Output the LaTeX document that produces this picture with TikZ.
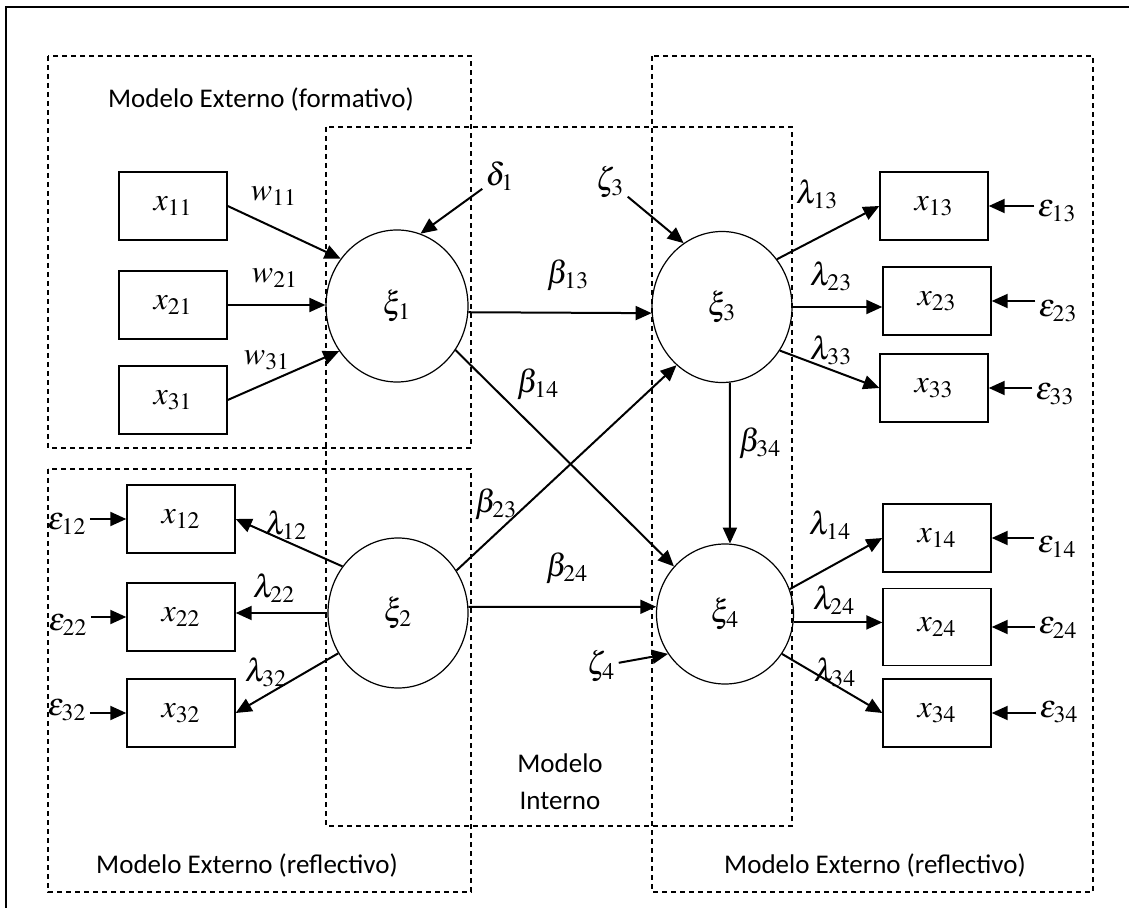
\documentclass[tikz,border=0pt]{standalone}
\usepackage{mathptmx}
\usepackage[no-math]{fontspec}
\setmainfont{Carlito}
\usetikzlibrary{arrows.meta,positioning,shapes.geometric}

\newcommand{\mathsz}{\fontsize{16}{19}\selectfont}
\newcommand{\notesz}{\fontsize{13.5}{18.5}\selectfont}

\begin{document}
\begin{tikzpicture}[x=0.5pt,y=-0.5pt,>={Triangle[length=8pt,width=7pt]}]
        \tikzset{block/.style={draw, rectangle, line width=0.7pt, inner sep=0pt, minimum width=54pt, minimum height=34pt, font=\mathsz},
        latent/.style={draw, ellipse, line width=0.6pt, inner sep=0pt, minimum width=71pt, minimum height=76pt, font=\mathsz},
        lbl/.style={inner sep=1.5pt, font=\mathsz},
        note/.style={inner sep=0pt, align=center, font=\notesz},
        zone/.style={line width=0.6pt, dash pattern=on 2.5pt off 2pt},
        arr/.style={line width=1pt, ->},
        }
        \useasboundingbox (0,0) rectangle (1129,908);
        \draw[line width=1pt] (6,908) -- (6,7) -- (1129,7);

%% dashed zones
        \draw[zone] (48,56) rectangle (471,448);
        \draw[zone] (48,469) rectangle (471,892);
        \draw[zone] (326,127) rectangle (792,826);
        \draw[zone] (652,56) rectangle (1093,892);
        \node[note] (formtxt) at (261,100) {Modelo Externo (formativo)};
        \node[note] (refltxtl) at (247,865) {Modelo Externo (reflectivo)};
        \node[note] (refltxtr) at (875,865) {Modelo Externo (reflectivo)};
        \node[note] (innertxt) at (560,782) {Modelo\\Interno};

%% indicators
        \node[block] (x11) at (173,206) {$x_{11}$};
        \node[block] (x21) at (173,305) {$x_{21}$};
        \node[block] (x31) at (173,400) {$x_{31}$};
        \node[block] (x12) at (181,519) {$x_{12}$};
        \node[block] (x22) at (181,617) {$x_{22}$};
        \node[block] (x32) at (181,713) {$x_{32}$};
        \node[block] (x13) at (934,206) {$x_{13}$};
        \node[block] (x23) at (937,301) {$x_{23}$};
        \node[block] (x33) at (934,388) {$x_{33}$};
        \node[block] (x14) at (937,538) {$x_{14}$};
        \node[block, minimum height=38.5pt] (x24) at (937,627) {$x_{24}$};
        \node[block] (x34) at (937,713) {$x_{34}$};

%% latent variables
        \node[latent] (xi1) at (397,306) {$\xi_1$};
        \node[latent, minimum width=70pt, minimum height=75pt] (xi2) at (398,613) {$\xi_2$};
        \node[latent, minimum width=70pt, minimum height=75.5pt] (xi3) at (722,307) {$\xi_3$};
        \node[latent, minimum width=68.5pt, minimum height=70pt] (xi4) at (725,614) {$\xi_4$};

%% labels
        \node[lbl] (w11) at (274,196) {$w_{11}$};
        \node[lbl] (w21) at (275,278) {$w_{21}$};
        \node[lbl] (w31) at (267,360) {$w_{31}$};
        \node[lbl] (lam12) at (286,525) {$\lambda_{12}$};
        \node[lbl] (lam22) at (274,588) {$\lambda_{22}$};
        \node[lbl] (lam32) at (266,672) {$\lambda_{32}$};
        \node[lbl] (lam13) at (817,194) {$\lambda_{13}$};
        \node[lbl] (lam23) at (831,276) {$\lambda_{23}$};
        \node[lbl] (lam33) at (831,350) {$\lambda_{33}$};
        \node[lbl] (lam14) at (830,525) {$\lambda_{14}$};
        \node[lbl] (lam24) at (834,600) {$\lambda_{24}$};
        \node[lbl] (lam34) at (835,672) {$\lambda_{34}$};
        \node[lbl] (beta13) at (568,275) {$\beta_{13}$};
        \node[lbl] (beta14) at (538,384) {$\beta_{14}$};
        \node[lbl] (beta23) at (496,504) {$\beta_{23}$};
        \node[lbl] (beta24) at (567,568) {$\beta_{24}$};
        \node[lbl] (beta34) at (760,443) {$\beta_{34}$};
        \node[lbl] (delta1) at (500,176) {$\delta_1$};
        \node[lbl] (zeta3) at (610,182) {$\zeta_3$};
        \node[lbl] (zeta4) at (601,666) {$\zeta_4$};
        \node[lbl] (eps12) at (67,524) {$\varepsilon_{12}$};
        \node[lbl] (eps22) at (68,625) {$\varepsilon_{22}$};
        \node[lbl] (eps32) at (67,710) {$\varepsilon_{32}$};
        \node[lbl] (eps13) at (1057,211) {$\varepsilon_{13}$};
        \node[lbl] (eps23) at (1058,311) {$\varepsilon_{23}$};
        \node[lbl] (eps33) at (1055,394) {$\varepsilon_{33}$};
        \node[lbl] (eps14) at (1057,547) {$\varepsilon_{14}$};
        \node[lbl] (eps24) at (1058,628) {$\varepsilon_{24}$};
        \node[lbl] (eps34) at (1059,712) {$\varepsilon_{34}$};

%% paths
        \path[draw,arr] (x11.east) edge (xi1.140)
                    (x21.east) edge (x21.east -| xi1.west)
                    (x31.east) edge (xi1.218)
                    (delta1) edge (xi1.72)
                    (xi2.140) edge (x12.east)
                    (xi2.west) edge (xi2.west -| x22.east)
                    (xi2.214) edge (x32.east)
                    (eps12.east |- x12.west) edge (x12.west)
                    (eps22.east |- x22.west) edge (x22.west)
                    (eps32.east |- x32.west) edge (x32.west)
                    (xi1.-5) edge (xi3.185)
                    (xi1.-37) edge (xi4.137)
                    (xi2.36) edge (xi3.232)
                    (xi2.5) edge (xi4.174)
                    (xi3.276) edge (xi4.86)
                    (zeta3) edge (xi3.121)
                    (zeta4) edge (xi4.215)
                    (xi3.41) edge (x13.west)
                    (xi3.east) edge (xi3.east -| x23.west)
                    (xi3.-37) edge (x33.west)
                    (xi4.21) edge (x14.west)
                    (xi4.-7) edge (xi4.-7 -| x24.west)
                    (xi4.-35) edge (x34.west)
                    (eps13.west |- x13.east) edge (x13.east)
                    (eps23.west |- x23.east) edge (x23.east)
                    (eps33.west |- x33.east) edge (x33.east)
                    (eps14.west |- x14.east) edge (x14.east)
                    (eps24.west |- x24.east) edge (x24.east)
                    (eps34.west |- x34.east) -- (x34.east)
                    ;
\end{tikzpicture}
\end{document}
